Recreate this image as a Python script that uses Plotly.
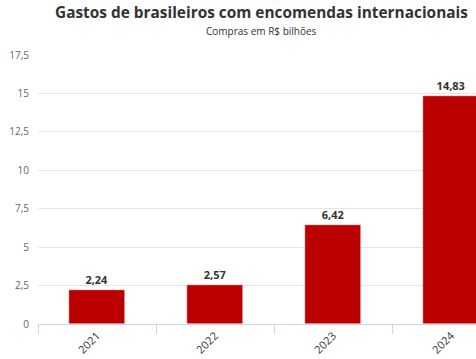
import plotly.graph_objects as go

years = ["2021", "2022", "2023", "2024"]
values = [2.24, 2.57, 6.42, 14.83]
y_ticks = [0, 2.5, 5, 7.5, 10, 12.5, 15, 17.5]

title_text = "Gastos de brasileiros com encomendas internacionais"
subtitle_text = "Compras em R$ bilhões"

W, H = 476, 359
ml, mt, mb = 38, 55, 35
cat_px = 118.0
x_max = (W - ml) / cat_px - 0.5

fig = go.Figure()
fig.add_trace(go.Bar(
    x=years, y=values,
    marker=dict(color="#bb0000", line=dict(color="#ffffff", width=0.5)),
    width=0.475,
    texttemplate="<b>%{y:.2f}</b>", textposition="outside",
    textfont=dict(family="Open Sans", size=11, color="#333333"),
    cliponaxis=False,
    hoverinfo="skip",
))

fig.update_layout(
    width=W, height=H,
    margin=dict(l=ml, r=0, t=mt, b=mb, autoexpand=False),
    plot_bgcolor="white", paper_bgcolor="white",
    separators=",.",
    showlegend=False,
    bargap=0,
    uniformtext=dict(minsize=11, mode="show"),
    font=dict(family="Open Sans", color="#333333"),
)

fig.update_xaxes(
    type="category", range=[-0.5, x_max], automargin=False,
    showline=True, linecolor="#ccd6eb", linewidth=1,
    ticks="outside", tickson="boundaries", ticklen=9, tickcolor="#ccd6eb",
    tickangle=-45, tickfont=dict(family="Open Sans", size=11, color="#333333"),
    showgrid=False, fixedrange=True,
)
fig.update_yaxes(
    range=[0, 17.5], tickvals=y_ticks, automargin=False,
    showgrid=True, gridcolor="#e6e6e6", gridwidth=1,
    zeroline=False, showline=False,
    tickfont=dict(family="Open Sans", size=10, color="#666666"),
    ticks="", ticklabelstandoff=8, fixedrange=True,
)

fig.add_annotation(text="<b>" + title_text + "</b>", xref="paper", yref="paper",
                   x=(261 - ml) / (W - ml), y=1, yshift=mt - 12, showarrow=False,
                   font=dict(family="Open Sans", size=15.4, color="#333333"),
                   xanchor="center", yanchor="middle")
fig.add_annotation(text=subtitle_text, xref="paper", yref="paper",
                   x=(261 - ml) / (W - ml), y=1, yshift=mt - 31, showarrow=False,
                   font=dict(family="Open Sans", size=10, color="#333333"),
                   xanchor="center", yanchor="middle")

fig.write_html("out.html", config={"displayModeBar": False},
               post_script="document.body.style.margin='0';document.body.style.overflow='hidden';")
